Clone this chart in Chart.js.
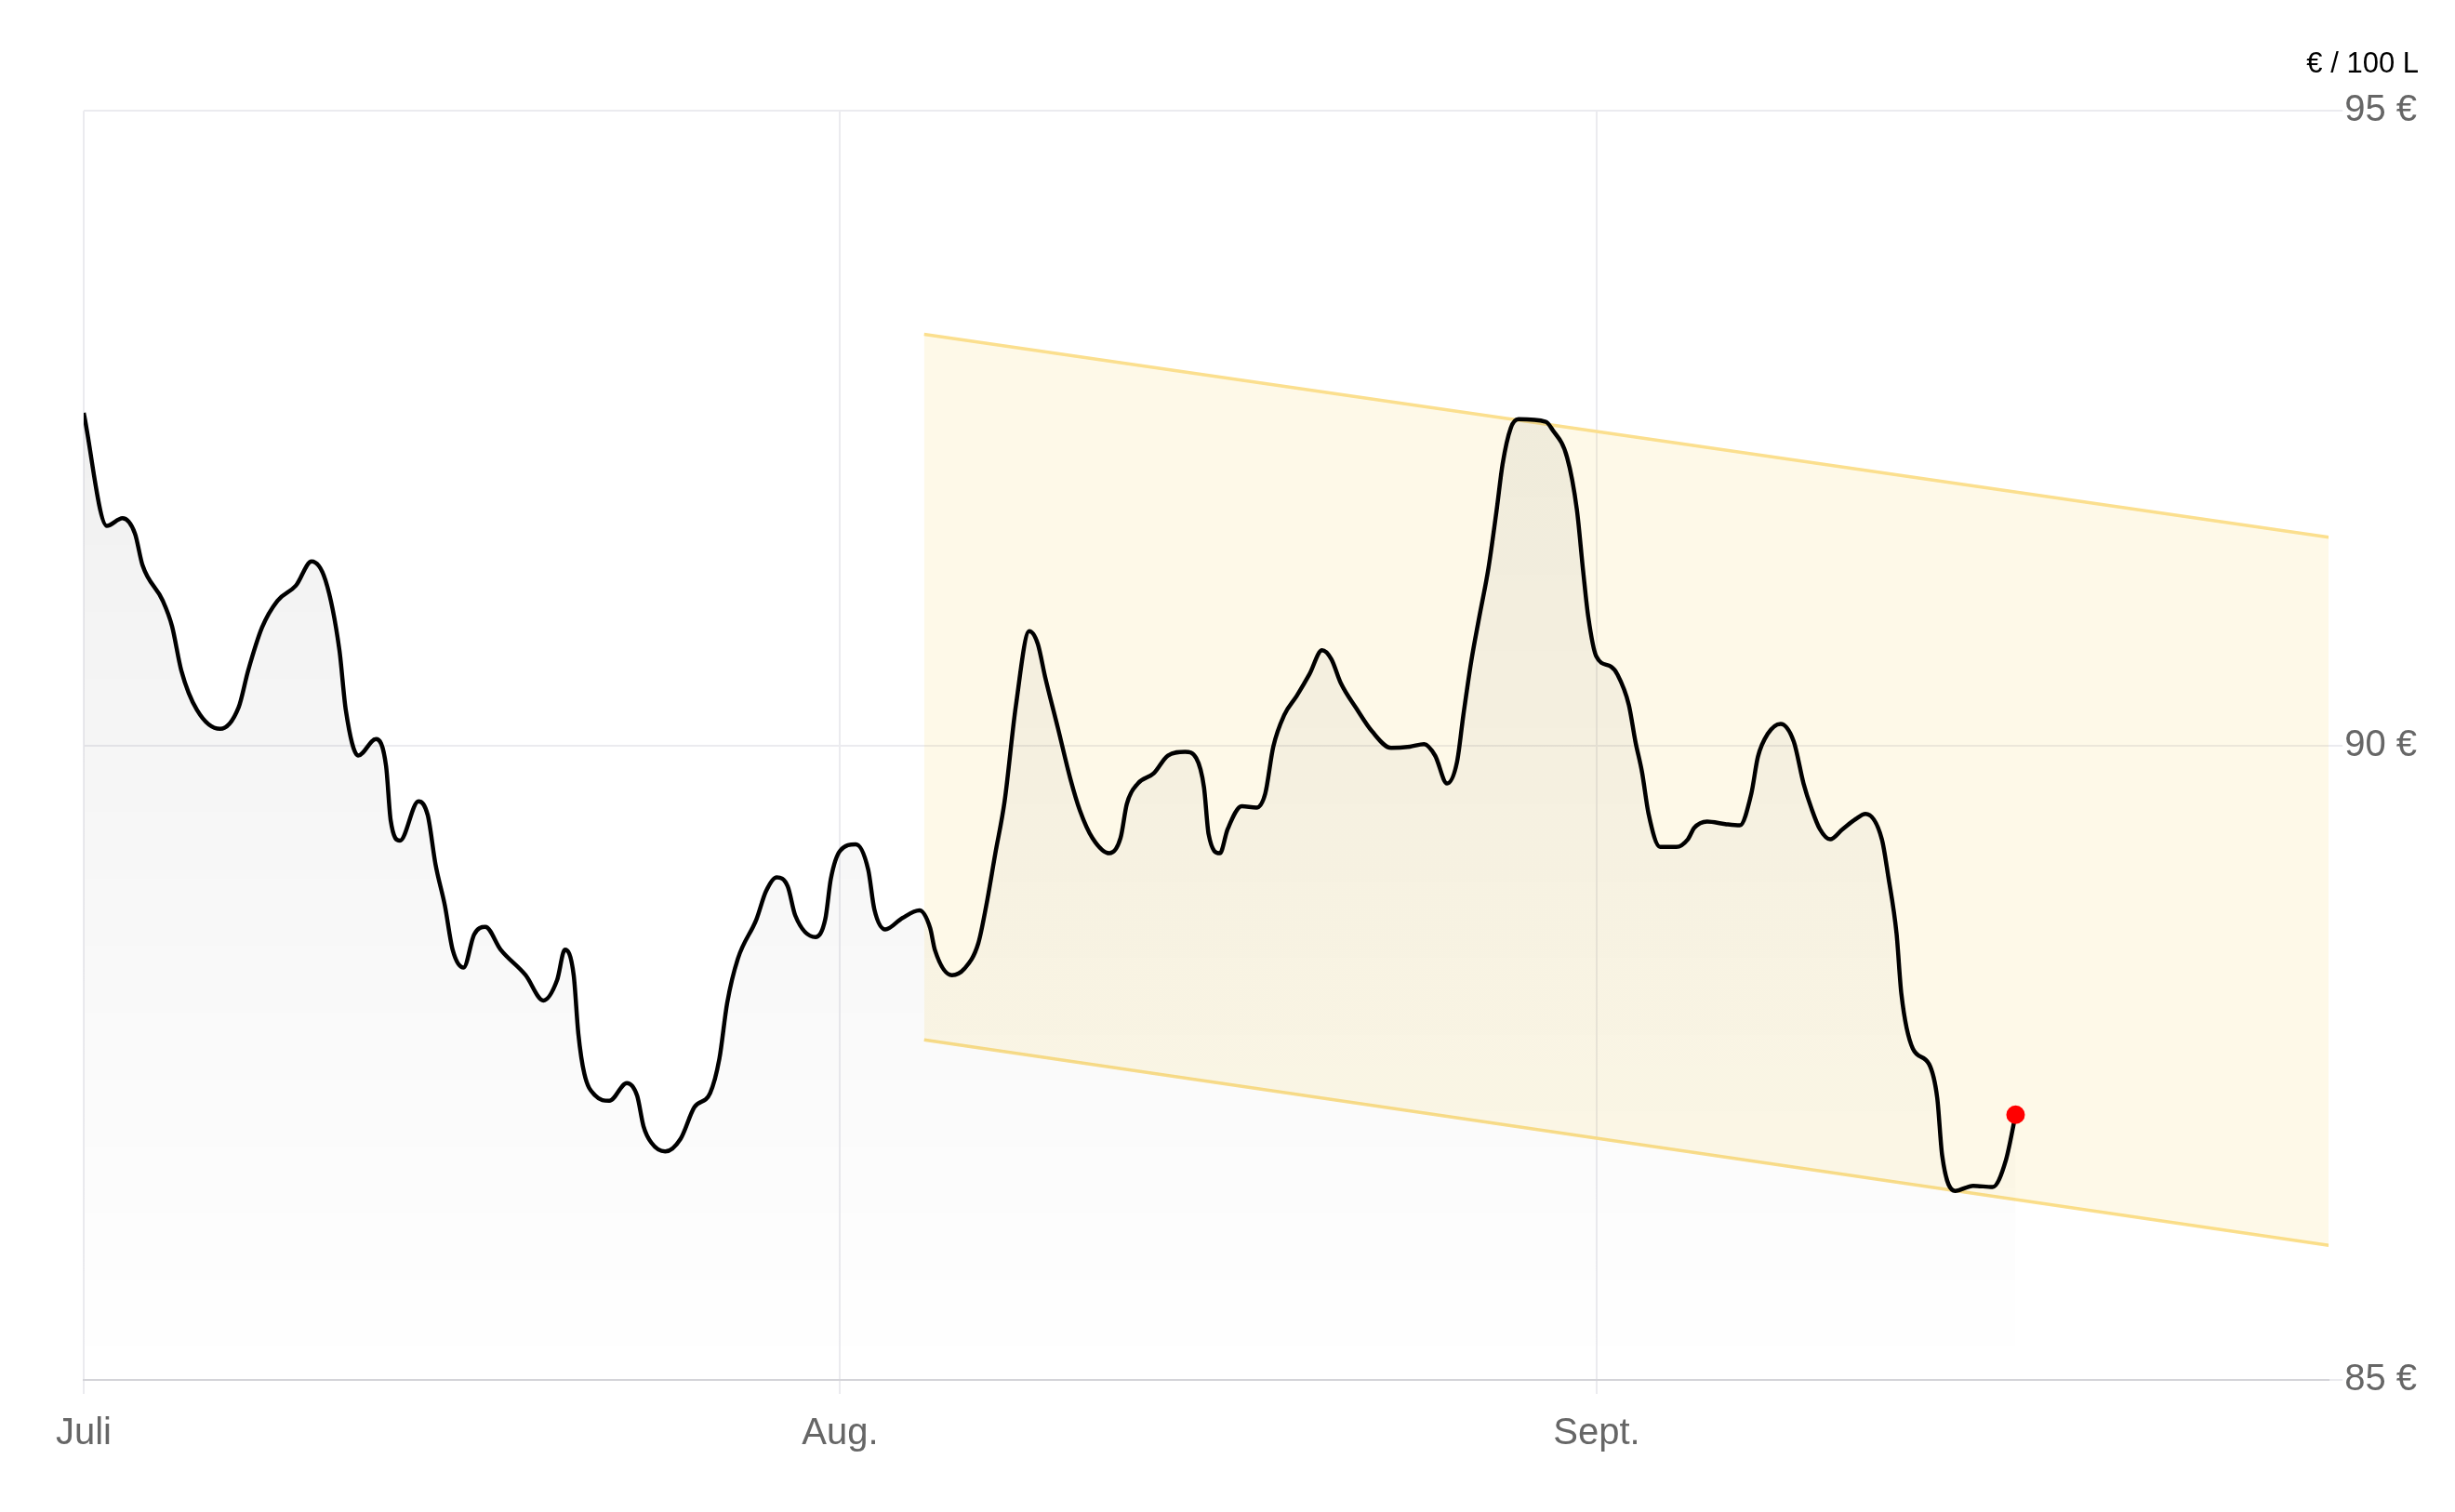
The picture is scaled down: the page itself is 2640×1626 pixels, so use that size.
<!DOCTYPE html>
<html lang="de">
<head>
<meta charset="utf-8">
<title>Heizölpreis</title>
<script src="https://cdn.jsdelivr.net/npm/chart.js@4/dist/chart.umd.min.js"></script>
<style>
    html, body { margin: 0; padding: 0; background: #fff; }
    #wrap { width: 2640px; height: 1626px; }
</style>
</head>
<body>
<div id="wrap"><canvas id="chartPreis" width="2640" height="1626"></canvas></div>
<script>
// Tage seit 1. Juli
const days = [
    0, 0.95, 1.59, 2.1, 2.41, 3.24, 3.62, 4.0, 4.64, 5.59,
    6.35, 6.74, 7.31, 7.94, 8.7, 9.34, 9.91, 10.48, 10.74, 11.25,
    11.98, 12.39, 12.58, 12.96, 13.72, 14.1, 14.42, 14.8, 15.12, 15.57,
    16.0, 16.46, 17.09, 18.11, 18.84, 19.4, 19.72, 20.08, 20.27, 20.52,
    20.97, 21.54, 22.26, 22.68, 22.94, 23.26, 23.83, 24.46, 25.03, 25.67,
    26.05, 26.37, 26.81, 27.57, 27.96, 28.4, 28.85, 29.16, 29.99, 30.39,
    30.62, 31.0, 31.64, 32.15, 32.4, 32.85, 33.55, 34.25, 34.69, 34.88,
    35.58, 36.09, 36.66, 36.98, 37.36, 37.74, 38.2, 38.75, 39.1, 39.4,
    39.92, 40.43, 40.82, 41.34, 42.04, 42.49, 42.75, 43.2, 43.85, 44.43,
    45.14, 45.59, 45.91, 46.1, 46.56, 46.88, 47.46, 48.06, 48.42, 48.75,
    49.2, 49.71, 50.23, 50.75, 51.13, 51.52, 52.16, 52.8, 53.58, 54.35,
    54.93, 55.38, 55.87, 56.28, 56.54, 56.86, 57.19, 57.57, 57.9, 58.15,
    58.48, 58.8, 59.92, 60.18, 60.79, 61.19, 61.45, 61.66, 61.99, 62.59,
    62.85, 63.32, 63.59, 63.86, 64.13, 64.6, 65.27, 65.74, 66.0, 66.53,
    67.27, 67.87, 68.34, 68.61, 69.01, 69.54, 70.08, 70.48, 70.81, 71.15,
    71.57, 72.08, 72.62, 73.02, 73.69, 73.95, 74.29, 74.49, 74.96, 75.62,
    75.96, 76.16, 76.69, 77.43, 78.23, 78.77, 79.17
];
// € / 100 L
const prices = [
    92.62, 91.73, 91.79, 91.67, 91.42, 91.14, 90.94, 90.59, 90.28, 90.13,
    90.30, 90.59, 90.93, 91.14, 91.26, 91.45, 91.30, 90.75, 90.28, 89.92,
    90.05, 89.84, 89.41, 89.25, 89.56, 89.45, 89.06, 88.74, 88.39, 88.25,
    88.51, 88.57, 88.39, 88.19, 87.99, 88.15, 88.39, 88.19, 87.73, 87.41,
    87.24, 87.20, 87.34, 87.24, 87.00, 86.87, 86.80, 86.90, 87.15, 87.26,
    87.53, 87.97, 88.32, 88.63, 88.85, 88.96, 88.89, 88.66, 88.49, 88.63,
    88.95, 89.17, 89.22, 89.02, 88.71, 88.55, 88.64, 88.70, 88.56, 88.39,
    88.19, 88.24, 88.44, 88.73, 89.15, 89.56, 90.31, 90.90, 90.80, 90.54,
    90.14, 89.74, 89.49, 89.27, 89.15, 89.27, 89.54, 89.70, 89.78, 89.92,
    89.95, 89.90, 89.67, 89.30, 89.15, 89.34, 89.52, 89.51, 89.62, 89.99,
    90.24, 90.39, 90.56, 90.75, 90.68, 90.49, 90.29, 90.11, 89.98, 89.99,
    90.01, 89.92, 89.70, 89.87, 90.24, 90.66, 91.01, 91.40, 91.85, 92.22,
    92.50, 92.57, 92.55, 92.49, 92.27, 91.86, 91.37, 91.01, 90.70, 90.62,
    90.56, 90.32, 90.03, 89.79, 89.46, 89.20, 89.20, 89.26, 89.35, 89.40,
    89.38, 89.37, 89.62, 89.91, 90.09, 90.17, 90.03, 89.70, 89.50, 89.34,
    89.26, 89.34, 89.42, 89.46, 89.26, 88.97, 88.52, 88.04, 87.61, 87.49,
    87.22, 86.77, 86.49, 86.53, 86.52, 86.73, 87.09
];

// Trendkanal
const bandDays = [34.44, 92];
const bandUpper = [93.24, 91.64];
const bandLower = [87.68, 86.06];

// Achsen
const monthStarts = [0, 31, 62];
const monthLabels = ['Juli', 'Aug.', 'Sept.'];
const yTicks = [85, 90, 95];
const xMax = 92;

const linePoints = days.map((d, i) => ({ x: d, y: prices[i] }));
const lastPoint = linePoints[linePoints.length - 1];

const gridColor = '#ebebef';
const tickColor = '#666666';
const yellowLine = '#fbdf8e';
const yellowFill = 'rgba(250, 210, 80, 0.13)';

const ctx = document.getElementById('chartPreis').getContext('2d');
new Chart(ctx, {
    type: 'line',
    data: {
        datasets: [{
            // aktueller Preis
            data: [lastPoint],
            showLine: false,
            pointRadius: 10,
            pointHoverRadius: 10,
            pointBackgroundColor: '#ff0000',
            pointBorderWidth: 0,
            order: 0
        }, {
            data: linePoints,
            borderColor: '#000000',
            borderWidth: 4.5,
            pointRadius: 0,
            cubicInterpolationMode: 'monotone',
            fill: 'start',
            backgroundColor: function (context) {
                const area = context.chart.chartArea;
                if (!area) return 'rgba(0,0,0,0.04)';
                const g = context.chart.ctx.createLinearGradient(0, area.top, 0, area.bottom);
                g.addColorStop(0, 'rgba(0,0,0,0.075)');
                g.addColorStop(1, 'rgba(0,0,0,0.0)');
                return g;
            },
            order: 1
        }, {
            data: bandDays.map((d, i) => ({ x: d, y: bandUpper[i] })),
            borderColor: yellowLine,
            borderWidth: 3.5,
            pointRadius: 0,
            fill: '+1',
            backgroundColor: yellowFill,
            order: 2
        }, {
            data: bandDays.map((d, i) => ({ x: d, y: bandLower[i] })),
            borderColor: yellowLine,
            borderWidth: 3.5,
            pointRadius: 0,
            fill: false,
            order: 3
        }]
    },
    options: {
        responsive: false,
        animation: false,
        devicePixelRatio: 1,
        layout: {
            padding: { left: 90, right: 39, top: 0, bottom: 41 }
        },
        plugins: {
            legend: { display: false },
            tooltip: { enabled: false },
            title: {
                display: true,
                text: '€ / 100 L',
                align: 'end',
                color: '#000000',
                font: { family: 'Liberation Sans', size: 31, weight: 'normal', lineHeight: 1.2 },
                padding: { top: 51, bottom: 31 }
            }
        },
        scales: {
            x: {
                type: 'linear',
                min: 0,
                max: xMax,
                afterBuildTicks: function (scale) {
                    scale.ticks = monthStarts.map(v => ({ value: v }));
                },
                ticks: {
                    autoSkip: false,
                    maxRotation: 0,
                    padding: 19,
                    color: tickColor,
                    font: { family: 'Liberation Sans', size: 40 },
                    callback: function (value) {
                        const i = monthStarts.indexOf(value);
                        return i >= 0 ? monthLabels[i] : '';
                    }
                },
                grid: { color: gridColor, lineWidth: 2, tickLength: 15 },
                border: { display: true, color: '#d4d4d9', width: 2 }
            },
            y: {
                position: 'right',
                min: yTicks[0],
                max: yTicks[yTicks.length - 1],
                afterBuildTicks: function (scale) {
                    scale.ticks = yTicks.map(v => ({ value: v }));
                },
                ticks: {
                    padding: 2,
                    color: tickColor,
                    font: { family: 'Liberation Sans', size: 40 },
                    callback: function (value) {
                        return value + ' €';
                    }
                },
                grid: { color: gridColor, lineWidth: 2, tickLength: 15 },
                border: { display: false }
            }
        }
    }
});
</script>
</body>
</html>
